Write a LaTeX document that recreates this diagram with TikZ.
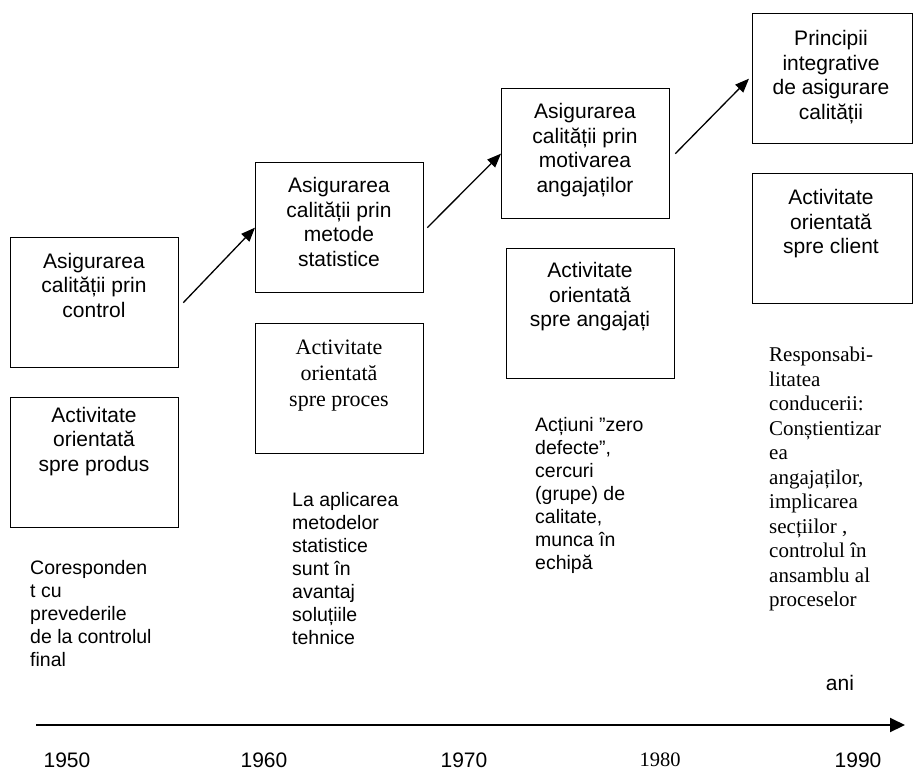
\documentclass[tikz,border=0pt]{standalone}
\usepackage{fontspec}
\setmainfont{Liberation Sans}
\newfontfamily\serifface{Liberation Serif}
\usetikzlibrary{arrows.meta}

\begin{document}
\begin{tikzpicture}[x=1pt,y=-1pt,
  box/.style={draw, line width=1.3pt, minimum width=168pt, minimum height=130pt,
              inner sep=0pt, anchor=north west},
  boxtext/.style={anchor=north, align=center, inner sep=0pt,
                  font=\fontsize{21}{24.5}\selectfont},
  boxserif/.style={anchor=north, align=center, inner sep=0pt,
                   font=\serifface\fontsize{22}{26}\selectfont},
  para/.style={anchor=north west, align=left, inner sep=0pt,
               font=\fontsize{19.5}{23}\selectfont},
  paraserif/.style={anchor=north west, align=left, inner sep=0pt,
                    font=\serifface\fontsize{21}{24.5}\selectfont},
  year/.style={inner sep=0pt, font=\fontsize{21}{24}\selectfont},
  conn/.style={line width=1.3pt, -{Triangle[length=14pt,width=11pt]}},
  axis/.style={line width=2pt, -{Triangle[length=15pt,width=14pt]}}]

\useasboundingbox (0,0) rectangle (913,772);

% stage boxes (upper row) and orientation boxes (lower row)
\node[box] (b1)  at (10,237)  {};
\node[box] (b1b) at (10,397)  {};
\node[box] (b2)  at (255,162) {};
\node[box] (b2b) at (255,323) {};
\node[box] (b3)  at (501,88)  {};
\node[box] (b3b) at (506,248) {};
\node[box, minimum width=159.5pt] (b4)  at (752,13)  {};
\node[box, minimum width=159.5pt] (b4b) at (752,173) {};

% box texts
\node[boxtext] (t1)  at (94,253)    {Asigurarea\\calității prin\\control};
\node[boxtext] (t1b) at (94,407)    {Activitate\\orientată\\spre produs};
\node[boxtext] (t2)  at (339,177.5) {Asigurarea\\calității prin\\metode\\statistice};
\node[boxserif] (t2b) at (339,340)  {Activitate\\orientată\\spre proces};
\node[boxtext] (t3)  at (585,103.5) {Asigurarea\\calității prin\\motivarea\\angajaților};
\node[boxtext] (t3b) at (590,262.5) {Activitate\\orientată\\spre angajați};
\node[boxtext] (t4)  at (831,30.5)  {Principii\\integrative\\de asigurare\\calității};
\node[boxtext] (t4b) at (831,189.5) {Activitate\\orientată\\spre client};

% descriptions under each stage
\node[para] (p1) at (30,560)  {Coresponden\\t cu\\prevederile\\de la controlul\\final};
\node[para] (p2) at (292,492) {La aplicarea\\metodelor\\statistice\\sunt în\\avantaj\\soluțiile\\tehnice};
\node[para] (p3) at (535,417) {Acțiuni ”zero\\defecte”,\\cercuri\\(grupe) de\\calitate,\\munca în\\echipă};
\node[paraserif] (p4) at (769,347) {Responsabi-\\litatea\\conducerii:\\Conștientizar\\ea\\angajaților,\\implicarea\\secțiilor ,\\controlul în\\ansamblu al\\proceselor};

% progression arrows
\draw[conn] ([xshift=4pt]b1.east) -- (b2.west);
\draw[conn] ([xshift=3pt]b2.east) -- (b3.west);
\draw[conn] ([xshift=5pt]b3.east) -- ([xshift=-3pt]b4.west);

% time axis
\coordinate (ax0) at (36,725);
\coordinate (ax1) at (905,725);
\draw[axis] (ax0) -- (ax1);
\node[year] (ani) at (840,683) {ani};
\node[year] (y1950) at (67,760)  {1950};
\node[year] (y1960) at (264,760) {1960};
\node[year] (y1970) at (464,760) {1970};
\node[year, font=\serifface\fontsize{20.5}{24}\selectfont] (y1980) at (660,760) {1980};
\node[year] (y1990) at (858,760) {1990};
\end{tikzpicture}
\end{document}
